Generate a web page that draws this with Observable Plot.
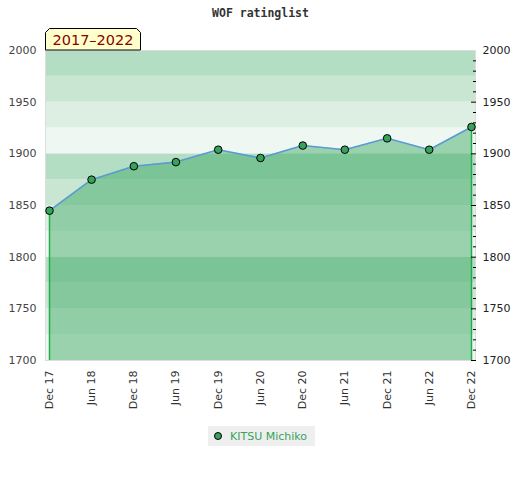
<!DOCTYPE html>
<html>
<head>
<meta charset="utf-8">
<script src="https://cdn.jsdelivr.net/npm/d3@7"></script>
<script src="https://cdn.jsdelivr.net/npm/@observablehq/plot@0.6"></script>
<style>
  body { margin: 0; background: #fff; }
  #wrap { width: 520px; position: relative; }
  #title { height: 24px; text-align: center; font: bold 11.5px "DejaVu Sans Mono", monospace; color: #333; line-height: 26px; padding-left: 1px; }
  #legend { display: flex; justify-content: center; margin-top: 6px; padding-left: 3px; }
  #legend .box { background: #efefef; height: 20px; display: flex; align-items: center; padding: 0 8px 0 6px; font: 11px "DejaVu Sans", sans-serif; color: #36a35b; }
  #legend .dot { width: 6px; height: 6px; border-radius: 50%; background: #36a35b; border: 1px solid #000; margin-right: 8px; }
</style>
</head>
<body>
<div id="wrap">
  <div id="title">WOF ratinglist</div>
  <div id="chart"></div>
  <div id="legend"><div class="box"><span class="dot"></span>KITSU Michiko</div></div>
</div>
<script>
const title = "WOF ratinglist";
const period = "2017–2022";
const player = "KITSU Michiko";
const dates = ["2017-12-01","2018-06-01","2018-12-01","2019-06-01","2019-12-01","2020-06-01","2020-12-01","2021-06-01","2021-12-01","2022-06-01","2022-12-01"];
const ratings = [1845, 1875, 1888, 1892, 1904, 1896, 1908, 1904, 1915, 1904, 1926];
const yLabels = [1700, 1750, 1800, 1850, 1900, 1950, 2000];
const yMinor = [1710,1720,1730,1740,1760,1770,1780,1790,1810,1820,1830,1840,1860,1870,1880,1890,1910,1920,1930,1940,1960,1970,1980,1990];
const bandStarts = [1700,1725,1750,1775,1800,1825,1850,1875,1900,1925,1950,1975];
const bandColors = ["#eef7f1","#dcefe2","#c9e6d3","#b3dec3","#eef7f1","#dcefe2","#c9e6d3","#b3dec3","#eef7f1","#dcefe2","#c9e6d3","#b3dec3"];

const data = dates.map((d, i) => ({date: new Date(d), rating: ratings[i]}));
const bands = bandStarts.map((b, i) => ({y1: b, y2: b + 25, fill: bandColors[i]}));
const ends = [data[0], data[data.length - 1]];
const fmt = d3.utcFormat("%b %y");

const chart = Plot.plot({
  width: 520,
  height: 396,
  marginTop: 26,
  marginBottom: 60,
  marginLeft: 45,
  marginRight: 45,
  style: {fontFamily: "DejaVu Sans, sans-serif", fontSize: "11px", color: "#333", background: "transparent"},
  x: {type: "utc", domain: [data[0].date, data[data.length - 1].date], insetLeft: 4, insetRight: 4},
  y: {domain: [1700, 2000]},
  marks: [
    Plot.rect(bands, {y1: "y1", y2: "y2", fill: "fill"}),
    Plot.frame({stroke: "#dddddd"}),
    Plot.areaY(data, {x: "date", y1: 1700, y2: "rating", fill: "#35a45e", fillOpacity: 0.45}),
    Plot.ruleX(ends, {x: "date", y1: () => 1700, y2: "rating", stroke: "#1fae4a", strokeWidth: 1.5}),
    Plot.line(data, {x: "date", y: "rating", stroke: "#5b9bd5", strokeWidth: 1.6}),
    Plot.dot(data, {x: "date", y: "rating", r: 3.8, fill: "#36a35b", stroke: "#000", strokeWidth: 1}),
    Plot.axisX(data.map(d => d.date), {tickRotate: -90, tickSize: 0, tickPadding: 10, tickFormat: fmt, fontSize: 11, fill: "#333", label: null}),
    Plot.axisY(yLabels, {anchor: "left", tickSize: 0, tickPadding: 9, tickFormat: d => String(d), fontSize: 11, fill: "#444", label: null}),
    Plot.axisY(yLabels, {anchor: "right", tickSize: 0, tickPadding: 7, tickFormat: d => String(d), fontSize: 11, fill: "#222", label: null}),
    Plot.axisY(yMinor, {anchor: "right", tickSize: 3, dx: -3, text: null, label: null, stroke: "#000"}),
    Plot.axisY(yLabels.filter(v => v < 2000), {anchor: "right", tickSize: 5, dx: -5, text: null, label: null, stroke: "#000"})
  ]
});
document.getElementById("chart").appendChild(chart);

// period badge on top-left of the plot frame
const svg = d3.select(chart);
const g = svg.append("g");
const L = 45.5, R = 140.5, T = 4.5, B = 26, c = 4;
g.append("polygon")
  .attr("points", [[L, B], [L, T + c], [L + c, T], [R - c, T], [R, T + c], [R, B]].map(p => p.join(",")).join(" "))
  .attr("fill", "#ffffcc").attr("stroke", "#000").attr("stroke-width", 1);
g.append("text").attr("x", (L + R) / 2).attr("y", 21).attr("text-anchor", "middle")
  .attr("fill", "#8b0000").style("font", "14.5px 'DejaVu Sans', sans-serif").text(period);
</script>
</body>
</html>
